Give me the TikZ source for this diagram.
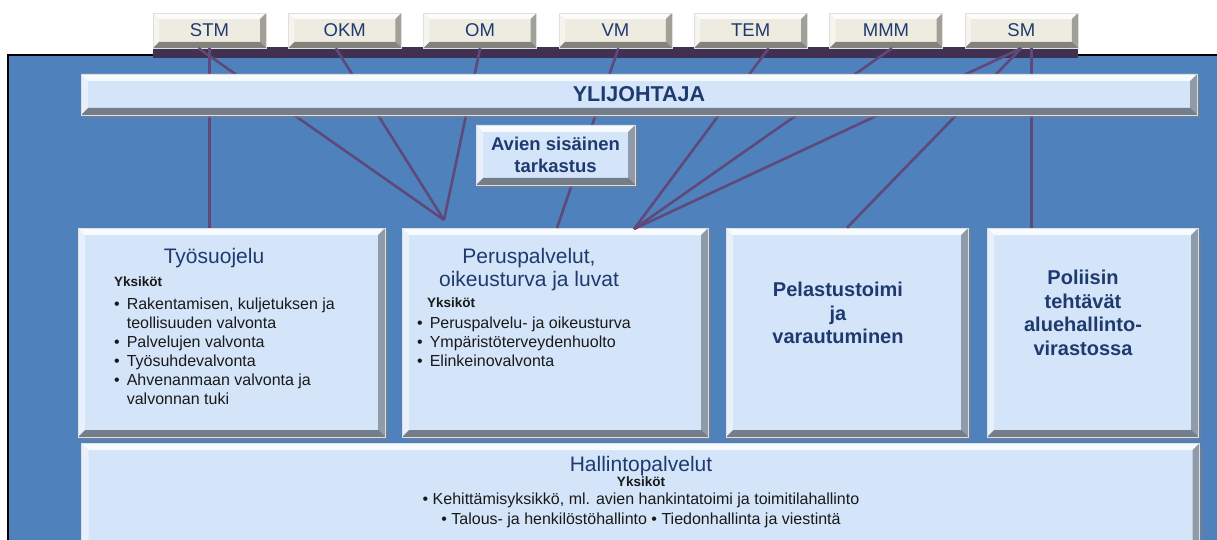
\documentclass[tikz,border=0pt]{standalone}
\usepackage{fontspec}
\setmainfont{Liberation Sans}
\usetikzlibrary{calc,shadows}

\definecolor{bgblue}{HTML}{4F81BD}
\definecolor{boxblue}{HTML}{D4E5FA}
\definecolor{minbeige}{HTML}{EEECE1}
\definecolor{navy}{HTML}{1F3A6E}
\definecolor{linkpurple}{HTML}{5F497A}
\definecolor{barpurple}{HTML}{403152}

\newcommand{\unititem}{\textbullet\hspace{7pt}}
\newcommand{\unitcont}{\phantom{\textbullet}\hspace{7pt}}

\tikzset{
  bevelled/.style={path picture={
    \path (path picture bounding box.north west) coordinate (bvnw)
          (path picture bounding box.north east) coordinate (bvne)
          (path picture bounding box.south west) coordinate (bvsw)
          (path picture bounding box.south east) coordinate (bvse);
    \fill[white,opacity=.85] (bvnw) -- (bvne) -- ($(bvne)+(-#1,-#1)$) -- ($(bvnw)+(#1,-#1)$) -- cycle;
    \fill[white,opacity=.45] (bvnw) -- (bvsw) -- ($(bvsw)+(#1,#1)$) -- ($(bvnw)+(#1,-#1)$) -- cycle;
    \fill[black,opacity=.32] (bvne) -- (bvse) -- ($(bvse)+(-#1,#1)$) -- ($(bvne)+(-#1,-#1)$) -- cycle;
    \fill[black,opacity=.45] (bvsw) -- (bvse) -- ($(bvse)+(-#1,#1)$) -- ($(bvsw)+(#1,#1)$) -- cycle;
  }},
  ministry/.style={draw=white!75!gray, line width=.5pt, fill=minbeige, bevelled=6pt,
    minimum width=113pt, minimum height=35pt, inner sep=0pt, text=navy,
    font=\fontsize{18.5}{20}\selectfont},
  unitbox/.style={draw=white!75!gray, line width=.6pt, fill=boxblue, bevelled=7pt, inner sep=0pt,
    drop shadow={shadow xshift=3pt, shadow yshift=-3pt, opacity=.5}},
  link/.style={linkpurple, line width=2.6pt},
  headtext/.style={text=navy, align=center, inner sep=0pt, font=\fontsize{21}{23}\selectfont},
  boldtext/.style={text=navy, align=center, inner sep=0pt, font=\bfseries\fontsize{20}{23.5}\selectfont},
  unitlist/.style={anchor=north west, align=left, inner sep=0pt, text=black!90,
    font=\fontsize{16}{19}\selectfont}
}

\begin{document}
\begin{tikzpicture}[x=1pt,y=-1pt]
\useasboundingbox (0,0) rectangle (1217,540);
% background
\fill[bgblue] (8,55) rectangle (1230,560);
\draw[black,line width=1.2pt] (8,560) -- (8,55) -- (1230,55);
\fill[barpurple] (153,47) rectangle (1078,58);

% ministries
\foreach \m [count=\i] in {STM,OKM,OM,VM,TEM,MMM,SM}
  \node[ministry] (\m) at ({209.5+135.3*(\i-1)},30.5) {\m};

% units
\node[unitbox, minimum width=307pt, minimum height=209pt] (tyo) at (231.5,332.5) {};
\node[unitbox, minimum width=306pt, minimum height=209pt] (perus) at (555,332.5) {};
\node[unitbox, minimum width=242pt, minimum height=209pt] (pel) at (847,332.5) {};
\node[unitbox, minimum width=211pt, minimum height=209pt] (pol) at (1092.5,332.5) {};
\node[unitbox, minimum width=1118pt, minimum height=110pt] (hallinto) at (640.5,498) {};

% connectors
\coordinate (pinA) at (444,220);
\coordinate (pinB) at (634,229);
\coordinate (pinC) at (557,228);
\draw[link] (STM.south) -- (STM.south |- tyo.north);
\draw[link] ([xshift=-11]STM.south) -- (pinA);
\draw[link] ([xshift=-9]OKM.south) -- (pinA);
\draw[link] (OM.south) -- (pinA);
\draw[link] ([xshift=3]VM.south) -- (pinC);
\draw[link] ([xshift=18]TEM.south) -- (pinB);
\draw[link] ([xshift=6]MMM.south) -- (pinB);
\draw[link] (SM.south) -- (pinB);
\draw[link] (SM.south) -- (pel.north);
\draw[link] ([xshift=10]SM.south) -- ([xshift=10]SM.south |- pol.north);

% top boxes
\node[unitbox, minimum width=1116pt, minimum height=41pt, text=navy,
  font=\bfseries\fontsize{21.5}{23}\selectfont] (ylij) at (639,94.5) {YLIJOHTAJA};
\node[unitbox, minimum width=159pt, minimum height=60pt, text=navy, align=center,
  font=\bfseries\fontsize{18.5}{22}\selectfont] (avien) at (555.5,155) {Avien sisäinen\\tarkastus};

% unit texts
\node[headtext] (tyotitle) at (214,258) {Työsuojelu};
\node[unitlist] (tyolist) at (114,277) {{\bfseries\fontsize{13.5}{16}\selectfont Yksiköt}\\[4pt]
  \unititem Rakentamisen, kuljetuksen ja\\
  \unitcont teollisuuden valvonta\\
  \unititem Palvelujen valvonta\\
  \unititem Työsuhdevalvonta\\
  \unititem Ahvenanmaan valvonta ja\\
  \unitcont valvonnan tuki};

\node[headtext] (perustitle) at (529,270) {Peruspalvelut,\\oikeusturva ja luvat};
\node[unitlist] (peruslist) at (417,298) {\hspace{10pt}{\bfseries\fontsize{13.5}{16}\selectfont Yksiköt}\\[2pt]
  \unititem Peruspalvelu- ja oikeusturva\\
  \unititem Ympäristöterveydenhuolto\\
  \unititem Elinkeinovalvonta};

\node[boldtext] (peltext) at (838,313) {Pelastustoimi\\ja\\varautuminen};
\node[boldtext] (poltext) at (1083,313) {Poliisin\\tehtävät\\aluehallinto-\\virastossa};

\node[anchor=north, align=center, inner sep=0pt, text=black!90,
  font=\fontsize{16}{20}\selectfont] (halltext) at (641,456)
  {{\color{navy}\fontsize{21}{21}\selectfont Hallintopalvelut}\\[-5pt]
   {\bfseries\fontsize{13.5}{16}\selectfont Yksiköt}\\[-2pt]
   \textbullet\ Kehittämisyksikkö, ml. avien hankintatoimi ja toimitilahallinto\\
   \textbullet\ Talous- ja henkilöstöhallinto \textbullet\ Tiedonhallinta ja viestintä};
\end{tikzpicture}
\end{document}
